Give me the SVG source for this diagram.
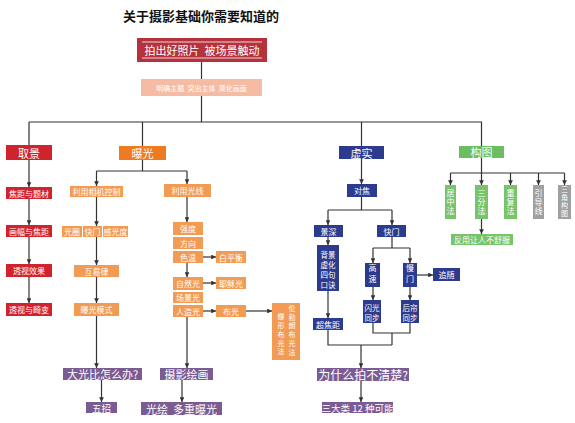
<svg xmlns="http://www.w3.org/2000/svg" width="575" height="423" viewBox="0 0 575 423">
<style>
text{font-family:"Noto Sans CJK SC","Noto Sans",sans-serif;fill:#fff;text-anchor:middle;dominant-baseline:central}
.v{writing-mode:vertical-rl;text-orientation:upright}
.t{fill:#111;font-size:13px;font-weight:bold}
.s7{font-size:7px}
.s75{font-size:7.5px}
.s8{font-size:8px}
.s9{font-size:9.5px}
.s11{font-size:11px}
.s12{font-size:12px}
.red{fill:#d1232e}
.org{fill:#ee7b21}
.org2{fill:#f29b54}
.blue{fill:#2c3b8d}
.grn{fill:#6cbd5f}
.grn2{fill:#78c46b}
.gray{fill:#a0a0a0}
.pur{fill:#7a5b92}
.ln{fill:none;stroke:#333;stroke-width:1.2}
</style>
<defs>
<marker id="ar" viewBox="0 0 6 6" refX="6" refY="3" markerWidth="4" markerHeight="4" orient="auto"><path d="M0,0L6,3L0,6z" fill="#333"/></marker>
</defs>
<rect width="575" height="423" fill="#fff"/>
<text class="t" x="201" y="15">关于摄影基础你需要知道的</text>

<g id="connectors" class="ln">
<path d="M201.5 62V79"/>
<path d="M201.5 96V122M29 122H482M29 122V145M142.5 122V146M361.5 122V146M481.5 122V146"/>
<path d="M29 160V187" marker-end="url(#ar)"/>
<path d="M29 199V225" marker-end="url(#ar)"/>
<path d="M29 237V264" marker-end="url(#ar)"/>
<path d="M29 277V303" marker-end="url(#ar)"/>
<path d="M142.5 160V171M96.5 171H187"/>
<path d="M96.5 171V186" marker-end="url(#ar)"/>
<path d="M187 171V184" marker-end="url(#ar)"/>
<path d="M96.5 197V226" marker-end="url(#ar)"/>
<path d="M96.5 237V265" marker-end="url(#ar)"/>
<path d="M96.5 277V303" marker-end="url(#ar)"/>
<path d="M96.5 316V368" marker-end="url(#ar)"/>
<path d="M101.5 380V402" marker-end="url(#ar)"/>
<path d="M187 197V222" marker-end="url(#ar)"/>
<path d="M187 263V277" marker-end="url(#ar)"/>
<path d="M187 317V368" marker-end="url(#ar)"/>
<path d="M182 380V402" marker-end="url(#ar)"/>
<path d="M203 257H216" marker-end="url(#ar)"/>
<path d="M203 283H216" marker-end="url(#ar)"/>
<path d="M203 311H216" marker-end="url(#ar)"/>
<path d="M246 311H272" marker-end="url(#ar)"/>
<path d="M361.5 159V184" marker-end="url(#ar)"/>
<path d="M361.5 197V210M328 210H392"/>
<path d="M328 210V225" marker-end="url(#ar)"/>
<path d="M392 210V225" marker-end="url(#ar)"/>
<path d="M328 237V245" marker-end="url(#ar)"/>
<path d="M328 291V318" marker-end="url(#ar)"/>
<path d="M392 237V248M373 248H410"/>
<path d="M373 248V263" marker-end="url(#ar)"/>
<path d="M410 248V263" marker-end="url(#ar)"/>
<path d="M417 275H433" marker-end="url(#ar)"/>
<path d="M373 287V300" marker-end="url(#ar)"/>
<path d="M410 287V300" marker-end="url(#ar)"/>
<path d="M373 323V333H410V323M392 333V345M328 330V345H392"/>
<path d="M361 345V368" marker-end="url(#ar)"/>
<path d="M361 381V402" marker-end="url(#ar)"/>
<path d="M481.5 158V173M450.5 173H564.5"/>
<path d="M450.5 173V185" marker-end="url(#ar)"/>
<path d="M481.5 173V185" marker-end="url(#ar)"/>
<path d="M510.5 173V185" marker-end="url(#ar)"/>
<path d="M538.5 173V185" marker-end="url(#ar)"/>
<path d="M564.5 173V185" marker-end="url(#ar)"/>
<path d="M481.5 219V234" marker-end="url(#ar)"/>
</g>

<g id="root">
<rect x="137" y="38" width="130" height="24" fill="#b5323c"/>
<path d="M142 42H262M142 58H262" stroke="#fff" stroke-width="0.8"/>
<text class="s11" x="202" y="50">拍出好照片&#160;&#160;被场景触动</text>
</g>
<g id="sub"><rect x="141" y="79" width="121" height="17" fill="#f5bba3"/><text x="201.5" y="87.5" font-size="7">明确主题&#160;&#160;突出主体&#160;&#160;简化画面</text></g>

<g id="quj"><rect class="red" x="6" y="145" width="46" height="15"/><text class="s11" x="29" y="152.5">取景</text></g>
<g id="q1"><rect class="red" x="6" y="187" width="46" height="12"/><text class="s8" x="29" y="193">焦距与题材</text></g>
<g id="q2"><rect class="red" x="6" y="225" width="46" height="12"/><text class="s8" x="29" y="231">画幅与焦距</text></g>
<g id="q3"><rect class="red" x="6" y="264" width="46" height="13"/><text class="s8" x="29" y="270.5">透视效果</text></g>
<g id="q4"><rect class="red" x="6" y="303" width="46" height="13"/><text class="s8" x="29" y="309.5">透视与畸变</text></g>

<g id="bg"><rect class="org" x="119" y="146" width="47" height="14"/><text class="s11" x="142.5" y="153">曝光</text></g>
<g id="b1"><rect class="org2" x="70" y="186" width="53" height="11"/><text class="s8" x="96.5" y="191.5">利用相机控制</text></g>
<g id="b2"><rect class="org2" x="62" y="226" width="20" height="11"/><text class="s8" x="72" y="231.5">光圈</text></g>
<g id="b3"><rect class="org2" x="83" y="226" width="19" height="11"/><text class="s8" x="92.5" y="231.5">快门</text></g>
<g id="b4"><rect class="org2" x="103" y="226" width="25" height="11"/><text class="s8" x="115.5" y="231.5">感光度</text></g>
<g id="b5"><rect class="org2" x="74" y="265" width="45" height="12"/><text class="s8" x="96.5" y="271">互易律</text></g>
<g id="b6"><rect class="org2" x="74" y="303" width="45" height="13"/><text class="s8" x="96.5" y="309.5">曝光模式</text></g>
<g id="c1"><rect class="org2" x="164" y="184" width="47" height="13"/><text class="s8" x="187.5" y="190.5">利用光线</text></g>
<g id="c2"><rect class="org2" x="173" y="222" width="30" height="13"/><text class="s8" x="188" y="228.5">强度</text></g>
<g id="c3"><rect class="org2" x="173" y="237" width="30" height="12"/><text class="s8" x="188" y="243">方向</text></g>
<g id="c4"><rect class="org2" x="173" y="251" width="30" height="12"/><text class="s8" x="188" y="257">色温</text></g>
<g id="c5"><rect class="org2" x="216" y="251" width="30" height="12"/><text class="s8" x="231" y="257">白平衡</text></g>
<g id="c6"><rect class="org2" x="173" y="277" width="30" height="13"/><text class="s8" x="188" y="283.5">自然光</text></g>
<g id="c7"><rect class="org2" x="216" y="277" width="30" height="12"/><text class="s8" x="231" y="283">耶稣光</text></g>
<g id="c8"><rect class="org2" x="173" y="292" width="30" height="11"/><text class="s8" x="188" y="297.5">场景光</text></g>
<g id="c9"><rect class="org2" x="173" y="305" width="30" height="12"/><text class="s8" x="188" y="311">人造光</text></g>
<g id="c10"><rect class="org2" x="216" y="305" width="30" height="12"/><text class="s8" x="231" y="311">布光</text></g>
<g id="c11"><rect class="org2" x="272" y="303" width="28" height="57"/>
<text class="s7 v" x="292" y="331" letter-spacing="1.7">伦勃朗布光法</text>
<text class="s7 v" x="281" y="335" letter-spacing="1.7">蝶形布光法</text>
</g>
<g id="p1"><rect class="pur" x="63" y="368" width="79" height="12"/><text class="s11" x="102.5" y="374">大光比怎么办?</text></g>
<g id="p2"><rect class="pur" x="160" y="368" width="53" height="12"/><text class="s11" x="186.5" y="374">摄影绘画</text></g>
<g id="p3"><rect class="pur" x="86" y="402" width="31" height="11"/><text class="s9" x="101.5" y="407.5">五招</text></g>
<g id="p4"><rect class="pur" x="141" y="402" width="81" height="13"/><text class="s11" x="181.5" y="408.5">光绘&#160;&#160;多重曝光</text></g>

<g id="xs"><rect class="blue" x="339" y="146" width="45" height="13"/><text class="s11" x="361.5" y="152.5">虚实</text></g>
<g id="x1"><rect class="blue" x="347" y="184" width="30" height="13"/><text class="s8" x="362" y="190.5">对焦</text></g>
<g id="x2"><rect class="blue" x="314" y="225" width="29" height="12"/><text class="s8" x="328.5" y="231">景深</text></g>
<g id="x3"><rect class="blue" x="377" y="225" width="29" height="12"/><text class="s8" x="391.5" y="231">快门</text></g>
<g id="x4"><rect class="blue" x="317" y="245" width="22" height="46"/><text class="s75"><tspan x="328" y="253.5">背景</tspan><tspan x="328" dy="10.3">虚化</tspan><tspan x="328" dy="10.3">四句</tspan><tspan x="328" dy="10.3">口诀</tspan></text></g>
<g id="x5"><rect class="blue" x="313" y="318" width="30" height="12"/><text class="s8" x="328" y="324">超焦距</text></g>
<g id="x6"><rect class="blue" x="365" y="263" width="15" height="24"/><text class="s8 v" x="372.5" y="275" letter-spacing="3">高速</text></g>
<g id="x7"><rect class="blue" x="403" y="263" width="14" height="24"/><text class="s8 v" x="410" y="275" letter-spacing="3">慢门</text></g>
<g id="x8"><rect class="blue" x="433" y="268" width="27" height="13"/><text class="s8" x="446.5" y="274.5">追随</text></g>
<g id="x9"><rect class="blue" x="363" y="300" width="18" height="23"/><text class="s75"><tspan x="372" y="306.5">闪光</tspan><tspan x="372" dy="10">同步</tspan></text></g>
<g id="x10"><rect class="blue" x="401" y="300" width="18" height="23"/><text class="s75"><tspan x="410" y="306.5">后帘</tspan><tspan x="410" dy="10">同步</tspan></text></g>
<g id="x11"><rect class="pur" x="317" y="368" width="92" height="13"/><text class="s12" x="363" y="374.5">为什么拍不清楚?</text></g>
<g id="x12"><rect class="pur" x="322" y="402" width="71" height="11"/><text class="s9" x="357.5" y="407.5">三大类 12 种可能</text></g>

<g id="gt"><rect class="grn" x="459" y="146" width="45" height="12"/><text class="s11" x="481.5" y="152">构图</text></g>
<g id="g1"><rect class="grn2" x="445" y="185" width="11" height="34"/><text class="s8 v" x="450.5" y="202" letter-spacing="1">居中法</text></g>
<g id="g2"><rect class="grn2" x="475" y="185" width="13" height="34"/><text class="s8 v" x="481.5" y="202" letter-spacing="1">三分法</text></g>
<g id="g3"><rect class="grn2" x="504" y="185" width="13" height="34"/><text class="s8 v" x="510.5" y="202" letter-spacing="1">重复法</text></g>
<g id="g4"><rect class="gray" x="533" y="185" width="11" height="34"/><text class="s8 v" x="538.5" y="202" letter-spacing="1">引导线</text></g>
<g id="g5"><rect class="gray" x="558" y="185" width="13" height="34"/><text class="s7 v" x="564.5" y="202" letter-spacing="1">三角构图</text></g>
<g id="g6"><rect class="grn2" x="451" y="234" width="62" height="11"/><text class="s8" x="482" y="239.5">反用让人不舒服</text></g>
</svg>
